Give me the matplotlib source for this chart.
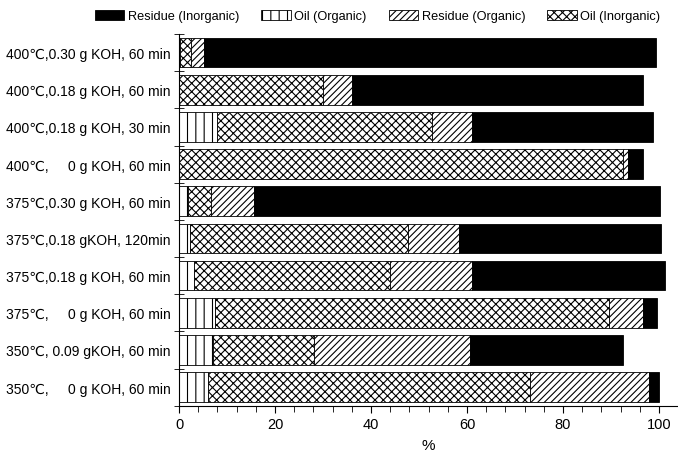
import matplotlib
matplotlib.use("Agg")
import matplotlib.pyplot as plt
from matplotlib.ticker import MultipleLocator, FixedLocator
import numpy as np

plt.rcParams["font.family"] = ["Liberation Sans", "DejaVu Sans"]
plt.rcParams["hatch.linewidth"] = 0.8

# reaction conditions, top to bottom
conditions = [
    "400℃,0.30 g KOH, 60 min",
    "400℃,0.18 g KOH, 60 min",
    "400℃,0.18 g KOH, 30 min",
    "400℃,     0 g KOH, 60 min",
    "375℃,0.30 g KOH, 60 min",
    "375℃,0.18 gKOH, 120min",
    "375℃,0.18 g KOH, 60 min",
    "375℃,     0 g KOH, 60 min",
    "350℃, 0.09 gKOH, 60 min",
    "350℃,     0 g KOH, 60 min",
]
# percentages, same order as conditions
oil_organic = [0.3, 0.0, 7.9, 0.0, 1.9, 2.3, 3.1, 7.5, 7.0, 6.1]
oil_inorganic = [2.1, 29.9, 44.9, 92.6, 4.7, 45.5, 40.9, 82.1, 21.2, 67.0]
residue_organic = [2.8, 6.2, 8.2, 0.9, 9.0, 10.5, 17.0, 7.1, 32.4, 24.8]
residue_inorganic = [94.2, 60.5, 37.8, 3.1, 84.6, 42.2, 40.3, 2.9, 32.0, 2.1]

fig = plt.figure(figsize=(6.78, 4.52), dpi=100)
ax = fig.add_axes([179 / 678, 1 - 406.7 / 452, (677 - 179) / 678, (406.7 - 35) / 452])

y = np.arange(len(conditions))
left = np.zeros(len(conditions))
series = [
    (oil_organic, "Oil (Organic)", "white", "||"),
    (oil_inorganic, "Oil (Inorganic)", "white", "xxxx"),
    (residue_organic, "Residue (Organic)", "white", "/////"),
    (residue_inorganic, "Residue (Inorganic)", "black", None),
]
handles = {}
for vals, label, face, hatch in series:
    vals = np.array(vals)
    bars = ax.barh(y, vals, left=left, height=0.8, color=face,
                   edgecolor="black", linewidth=0.6, hatch=hatch, label=label)
    handles[label] = bars
    left += vals

ax.set_xlim(0, 103.75)
ax.set_ylim(9.5, -0.5)
for side in ["top", "right"]:
    ax.spines[side].set_visible(False)

ax.xaxis.set_major_locator(MultipleLocator(20))
ax.xaxis.set_minor_locator(MultipleLocator(4))
ax.tick_params(axis="x", which="major", direction="out", length=5, labelsize=10.5, pad=3)
ax.tick_params(axis="x", which="minor", direction="out", length=4)

ax.set_yticks(y)
ax.set_yticklabels(conditions)
ax.yaxis.set_minor_locator(FixedLocator(np.arange(-0.5, 10, 1)))
ax.tick_params(axis="y", which="major", length=0, pad=6, labelsize=10)
ax.tick_params(axis="y", which="minor", direction="inout", length=7)

ax.set_xlabel("%", fontsize=11, labelpad=5)

order = ["Residue (Inorganic)", "Oil (Organic)", "Residue (Organic)", "Oil (Inorganic)"]
fig.legend([handles[k] for k in order], order, loc="center right",
           bbox_to_anchor=(672 / 678, 1 - 17 / 452), ncol=4, frameon=False,
           fontsize=9.2, handlelength=2.3, handleheight=0.8,
           columnspacing=1.7, handletextpad=0.3)

fig.savefig("out.png", dpi=100)
